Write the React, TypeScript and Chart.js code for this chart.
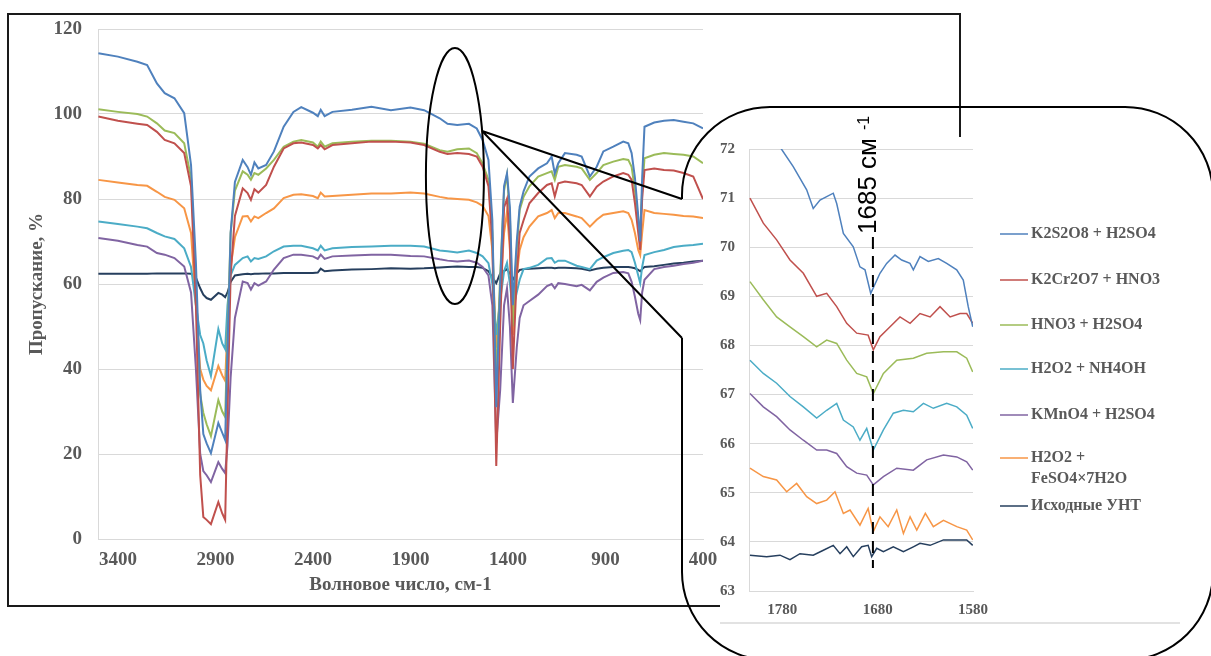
import React, { useEffect, useRef } from 'react';
import { Chart, registerables } from 'chart.js';

Chart.register(...registerables);

// ---------- main spectrum ----------
const SERIES_NAMES = ['K2S2O8 + H2SO4', 'K2Cr2O7 + HNO3', 'HNO3 + H2SO4', 'H2O2 + NH4OH', 'KMnO4 + H2SO4', 'H2O2 + FeSO4×7H2O', 'Исходные УНТ'];
const LEGEND_LINES = [['K2S2O8 + H2SO4'], ['K2Cr2O7 + HNO3'], ['HNO3 + H2SO4'], ['H2O2 + NH4OH'], ['KMnO4 + H2SO4'], ['H2O2 +', 'FeSO4×7H2O'], ['Исходные УНТ']];
const COLORS = ['#4F81BD', '#C0504D', '#9BBB59', '#4BACC6', '#8064A2', '#F79646', '#263F5E'];

const WAVENUMBER = [3500, 3400, 3300, 3250, 3200, 3160, 3110, 3060, 3025, 3000,
  2978, 2962, 2945, 2923, 2885, 2865, 2850, 2838, 2822, 2800,
  2760, 2735, 2718, 2700, 2680, 2640, 2600, 2550, 2500, 2460,
  2400, 2375, 2360, 2340, 2300, 2200, 2100, 2000, 1900, 1830,
  1750, 1710, 1660, 1600, 1560, 1530, 1500, 1480, 1460, 1440,
  1420, 1405, 1390, 1375, 1355, 1340, 1320, 1290, 1245, 1200,
  1176, 1160, 1142, 1108, 1048, 1022, 980, 945, 911, 860,
  809, 783, 766, 749, 732, 722, 712, 700, 650, 600,
  550, 500, 450, 400];

const T_K2S2O8 = [114.3, 113.5, 112.3, 111.5, 107.2, 104.9, 103.7, 100.2, 88, 65,
  35, 24.7, 22.5, 20.2, 27.3, 25, 23.3, 45, 72, 84,
  89.2, 87.5, 85.7, 88.6, 87.2, 88, 91.2, 97, 100.5, 101.6,
  100.3, 99.5, 101, 99.5, 100.5, 101, 101.7, 100.9, 101.5, 100.9,
  99, 97.7, 97.4, 97.7, 96.6, 93.9, 89.2, 75, 31, 60,
  83, 86, 78, 55, 70, 78.2, 81.8, 85.3, 87.2, 88.4,
  90, 86, 88.4, 90.8, 90.4, 90, 85.3, 87.6, 91.2, 92.3,
  93.5, 93.1, 90.8, 85, 76, 70, 85, 97, 98, 98.4,
  98.6, 98.2, 97.8, 96.6];
const T_K2CR2O7 = [99.4, 98.4, 97.7, 97.4, 95.8, 93.9, 93.1, 90.8, 83, 55,
  15, 5.2, 4.5, 3.5, 8.7, 6, 4.5, 30, 62, 76,
  82.5, 81.4, 79.8, 82.3, 81.5, 83.3, 87.6, 91.9, 93.1, 93.3,
  92.7, 91.9, 92.7, 91.7, 92.7, 93.1, 93.5, 93.5, 93.3, 92.7,
  91.1, 90.6, 90.8, 90.6, 90, 87.6, 83, 70, 17.2, 50,
  78, 80, 70, 40, 62, 72, 75, 79, 81.4, 83.3,
  83.7, 80.6, 83.7, 84.1, 83.7, 83.3, 80.6, 82.9, 84.1, 85.3,
  86.1, 85.7, 84.5, 79, 72, 68, 80, 86.8, 87.2, 86.8,
  86.7, 86.1, 85.3, 80];
const T_HNO3 = [101.1, 100.5, 100, 99.4, 97.8, 96.1, 95.5, 93.1, 85, 60,
  34, 29.7, 27, 24.2, 32.7, 30, 28.7, 48, 72, 82,
  86.5, 85.7, 84.5, 86.1, 85.7, 87.2, 89.2, 92.3, 93.5, 93.9,
  93.3, 92.3, 93.5, 92.3, 93.1, 93.5, 93.7, 93.7, 93.5, 93,
  91.5, 91.1, 91.7, 91.9, 90.8, 88.4, 84.5, 72, 37, 62,
  82, 85.7, 76, 50, 68, 77.4, 80.5, 83, 85.3, 86.1,
  86.5, 84.5, 87.6, 88, 87.6, 87.2, 84.5, 86.1, 88, 88.8,
  89.4, 89.2, 87.6, 82, 75, 72, 82, 89.6, 90.4, 90.8,
  90.6, 90.4, 90, 88.4];
const T_H2O2_NH4OH = [74.7, 74.1, 73.5, 73.1, 72, 71.2, 70.6, 68.4, 64, 55,
  48, 46, 42, 38.4, 49.4, 46, 44.7, 55, 62, 64.5,
  66.1, 66.5, 65.3, 66.1, 65.9, 66.5, 67.7, 68.8, 69, 69,
  68.4, 67.9, 69, 67.9, 68.4, 68.7, 68.8, 69, 69, 68.8,
  67.9, 67.7, 67.4, 67.9, 67.3, 66.5, 64.9, 60, 48, 56,
  63, 65, 60, 54, 58, 61, 63.5, 63.8, 64.5, 66,
  66.1, 65, 65.5, 65.5, 64.3, 64, 63.5, 65.5, 66.3, 67.3,
  67.8, 68, 67.5, 65, 62, 60.2, 64, 66.8, 67.5, 68,
  68.7, 69, 69.2, 69.5];
const T_KMNO4 = [70.8, 70.2, 69.2, 68.8, 67.3, 66.9, 66.1, 64.1, 58, 40,
  20, 16, 15, 13.4, 18.1, 16.5, 15.5, 22, 38, 52,
  60.6, 60.2, 58.7, 60.2, 59.6, 60.6, 63.4, 66.1, 66.9, 66.9,
  66.5, 65.9, 66.9, 65.9, 66.5, 66.7, 66.9, 66.9, 66.6, 66.5,
  65.8, 65.5, 65.3, 65.5, 65, 64, 62, 55, 22.6, 35,
  55, 59, 50, 32, 45, 52, 55, 56, 57.5, 59.5,
  60, 59, 60.2, 60, 59.5, 59.8, 58.5, 60.5, 61.5, 62.6,
  62.8, 62.5, 60.5, 57, 53, 51.5, 58, 61, 63.5, 64,
  64.3, 64.7, 65, 65.5];
const T_FESO4 = [84.5, 83.9, 83.3, 83.1, 81.7, 80.5, 79.8, 77.8, 72, 55,
  40, 37.5, 36, 35, 40.7, 38.5, 37.2, 50, 64, 71,
  75.9, 76, 74.7, 75.9, 75.5, 76.7, 77.8, 80.2, 81, 81.1,
  80.7, 80.2, 81.5, 80.6, 80.7, 81, 81.3, 81.3, 81.5, 81.3,
  80.5, 80.2, 80, 79.8, 79.2, 78.4, 76, 68, 45, 58,
  72, 77, 68, 48, 62, 68, 71, 73.5, 75.9, 76.7,
  77.4, 75.5, 76.7, 76.7, 75.9, 75.5, 73.5, 75.1, 76.3, 76.7,
  77.1, 76.7, 75.1, 72, 68, 66.8, 72, 77.4, 76.7, 76.5,
  76.3, 76, 75.9, 75.5];
const T_PRISTINE = [62.4, 62.4, 62.4, 62.4, 62.5, 62.5, 62.5, 62.5, 62.4, 61.5,
  59, 57.5, 56.7, 56.3, 57.9, 57.5, 56.9, 58, 60.5, 62,
  62.3, 62.4, 62.3, 62.4, 62.4, 62.5, 62.5, 62.6, 62.6, 62.6,
  62.6, 62.7, 63.6, 63, 63.2, 63.4, 63.5, 63.7, 63.6, 63.7,
  63.9, 64, 64.1, 64, 64, 63.8, 63, 61.5, 60.2, 62.5,
  63, 63.5, 62.5, 61, 62.5, 63.3, 63.5, 63.6, 63.7, 63.8,
  63.8, 63.7, 63.8, 63.8, 63.7, 63.6, 63.2, 63.6, 63.8, 64,
  64, 64, 63.9, 63.7, 63.3, 63, 63.5, 64, 64.2, 64.5,
  64.8, 65, 65.3, 65.5];

const MAIN_SERIES = [T_K2S2O8, T_K2CR2O7, T_HNO3, T_H2O2_NH4OH, T_KMNO4, T_FESO4, T_PRISTINE];
const X_TICKS = [3400, 2900, 2400, 1900, 1400, 900, 400];
const X_TITLE = 'Волновое число, см-1';
const Y_TITLE = 'Пропускание, %';

// ---------- inset (1580–1815 cm-1) ----------
const INSET_K2S2O8_X = [1814, 1781, 1768.6, 1754.5, 1747.6, 1740.5, 1733.5, 1726.6, 1723, 1716, 1705.6, 1698.6, 1693.3, 1687.3, 1677.6, 1670.6, 1661.8, 1654.8, 1646.1, 1642.6, 1635.6, 1626.9, 1616.4, 1607.6, 1597.1, 1590.2, 1585, 1580.3];
const INSET_K2S2O8_Y = [72.9, 72.0, 71.64, 71.17, 70.79, 70.96, 71.03, 71.1, 70.89, 70.28, 70.01, 69.6, 69.54, 69.06, 69.47, 69.67, 69.84, 69.74, 69.67, 69.54, 69.81, 69.71, 69.77, 69.67, 69.54, 69.33, 68.79, 68.38];
const INSET_K2CR2O7_X = [1814, 1800, 1786, 1772, 1758, 1744, 1733.5, 1723, 1712.5, 1702, 1690, 1684.6, 1677.6, 1667, 1656.6, 1646, 1635.6, 1625, 1614.6, 1604, 1593.6, 1586.6, 1580.3];
const INSET_K2CR2O7_Y = [71.0, 70.49, 70.15, 69.74, 69.47, 69.0, 69.06, 68.79, 68.45, 68.25, 68.21, 67.91, 68.18, 68.38, 68.58, 68.45, 68.65, 68.58, 68.79, 68.58, 68.65, 68.65, 68.45];
const INSET_HNO3_X = [1814, 1800, 1786, 1772, 1758, 1744, 1733.5, 1723, 1712.5, 1702, 1691.5, 1684.6, 1674, 1660, 1642.6, 1628.6, 1611, 1597, 1586.6, 1580.3];
const INSET_HNO3_Y = [69.3, 68.93, 68.58, 68.38, 68.18, 67.97, 68.11, 68.04, 67.7, 67.43, 67.36, 67.02, 67.43, 67.7, 67.74, 67.84, 67.87, 67.87, 67.74, 67.46];
const INSET_NH4OH_X = [1814, 1800, 1786, 1772, 1758, 1744, 1733.5, 1723, 1716, 1705.6, 1698.6, 1691.5, 1684.6, 1674, 1663.6, 1653, 1642.6, 1632, 1621.6, 1607.6, 1597, 1586.6, 1580.3];
const INSET_NH4OH_Y = [67.7, 67.43, 67.23, 66.96, 66.75, 66.52, 66.68, 66.82, 66.48, 66.34, 66.07, 66.31, 65.87, 66.28, 66.62, 66.68, 66.65, 66.82, 66.72, 66.82, 66.75, 66.58, 66.31];
const INSET_KMNO4_X = [1814, 1800, 1786, 1772, 1758, 1744, 1733.5, 1723, 1712.5, 1702, 1691.5, 1684.6, 1674, 1660, 1642.6, 1628.6, 1611, 1597, 1586.6, 1580.3];
const INSET_KMNO4_Y = [67.02, 66.75, 66.55, 66.28, 66.07, 65.87, 65.87, 65.8, 65.53, 65.4, 65.36, 65.16, 65.33, 65.5, 65.46, 65.67, 65.77, 65.73, 65.63, 65.46];
const INSET_FESO4_X = [1814, 1800, 1786, 1775.5, 1765, 1754.5, 1744, 1733.5, 1724.8, 1716, 1709, 1698.6, 1690, 1684.6, 1677.6, 1669, 1660, 1653, 1646, 1639, 1630, 1621.6, 1611, 1597, 1586.6, 1580.3];
const INSET_FESO4_Y = [65.5, 65.33, 65.26, 65.02, 65.19, 64.92, 64.78, 64.85, 65.02, 64.58, 64.65, 64.34, 64.68, 64.21, 64.51, 64.31, 64.65, 64.17, 64.51, 64.24, 64.58, 64.31, 64.44, 64.31, 64.24, 64.04];
const INSET_PRISTINE_X = [1814, 1796.5, 1782.5, 1772, 1761.5, 1747.6, 1737, 1726.6, 1719.5, 1712.5, 1705.6, 1696.8, 1690, 1686.3, 1681, 1674, 1663.6, 1653, 1642.6, 1635.6, 1625, 1611, 1597, 1586.6, 1580.3];
const INSET_PRISTINE_Y = [63.73, 63.7, 63.73, 63.64, 63.76, 63.73, 63.83, 63.93, 63.76, 63.9, 63.7, 63.9, 63.93, 63.7, 63.87, 63.8, 63.9, 63.8, 63.9, 63.97, 63.93, 64.04, 64.04, 64.04, 63.93];

const INSET_XS = [INSET_K2S2O8_X, INSET_K2CR2O7_X, INSET_HNO3_X, INSET_NH4OH_X, INSET_KMNO4_X, INSET_FESO4_X, INSET_PRISTINE_X];
const INSET_YS = [INSET_K2S2O8_Y, INSET_K2CR2O7_Y, INSET_HNO3_Y, INSET_NH4OH_Y, INSET_KMNO4_Y, INSET_FESO4_Y, INSET_PRISTINE_Y];
const INSET_X_TICKS = [1780, 1680, 1580];
const MARK_WAVENUMBER = 1685;
const MARK_LABEL = '1685 см';
const MARK_SUP = '-1';
// zoomed region circled on the main spectrum
const ZOOM_CENTER_WN = 1672;
const ZOOM_CENTER_T = 85.4;

const SERIF = "'Liberation Serif', 'Times New Roman', serif";
const TEXT_GRAY = '#595959';
const GRID_GRAY = '#d9d9d9';

export default function App() {
  const mainRef = useRef<HTMLCanvasElement>(null);
  const insetRef = useRef<HTMLCanvasElement>(null);

  useEffect(() => {
    const mainFont = { family: SERIF, size: 19, weight: 'bold' as const };

    const framePlugin = {
      id: 'frame',
      beforeDraw(chart: any) {
        const ctx = chart.ctx;
        ctx.save();
        ctx.strokeStyle = '#1a1a1a';
        ctx.lineWidth = 2;
        ctx.strokeRect(8, 14, 952, 592);
        ctx.restore();
      },
    };

    const calloutPlugin = {
      id: 'callout',
      afterDraw(chart: any) {
        const ctx = chart.ctx;
        const xs = chart.scales.x;
        const ys = chart.scales.y;
        const cx = xs.getPixelForValue(ZOOM_CENTER_WN);
        const cy = ys.getPixelForValue(ZOOM_CENTER_T);
        const rx = 29, ry = 128;
        ctx.save();
        ctx.strokeStyle = '#000';
        ctx.lineWidth = 2;
        ctx.beginPath();
        ctx.ellipse(cx, cy, rx, ry, 0, 0, Math.PI * 2);
        ctx.stroke();
        const ay = cy - 45;
        const ax = cx + rx * Math.sqrt(1 - (45 / ry) * (45 / ry));
        const L = 682, T = 107, R = 1213, B = 660, r = 88;
        ctx.beginPath();
        ctx.moveTo(ax, ay);
        ctx.lineTo(L, 199);
        ctx.moveTo(ax, ay);
        ctx.lineTo(L, 338);
        ctx.stroke();
        ctx.beginPath();
        ctx.moveTo(L, 199);
        ctx.lineTo(L, T + r);
        ctx.arcTo(L, T, L + r, T, r);
        ctx.lineTo(R - r, T);
        ctx.arcTo(R, T, R, T + r, r);
        ctx.lineTo(R, B - r);
        ctx.arcTo(R, B, R - r, B, r);
        ctx.lineTo(L + r, B);
        ctx.arcTo(L, B, L, B - r, r);
        ctx.lineTo(L, 338);
        ctx.stroke();
        ctx.restore();
      },
    };

    const main = new Chart(mainRef.current as HTMLCanvasElement, {
      type: 'line',
      data: {
        datasets: MAIN_SERIES.map((s, i) => ({
          label: SERIES_NAMES[i],
          data: WAVENUMBER.map((x, j) => ({ x, y: s[j] })),
          borderColor: COLORS[i],
          backgroundColor: COLORS[i],
          borderWidth: 2,
          pointRadius: 0,
          tension: 0,
          fill: false,
        })),
      },
      options: {
        animation: false,
        responsive: false,
        maintainAspectRatio: false,
        layout: { padding: { left: 0, top: 29, right: 508, bottom: 36 } },
        plugins: { legend: { display: false }, tooltip: { enabled: false } },
        scales: {
          x: {
            type: 'linear',
            reverse: true,
            min: 400,
            max: 3502,
            afterBuildTicks: (s: any) => { s.ticks = X_TICKS.map((v) => ({ value: v })); },
            afterFit: (s: any) => { s.height = 81; },
            grid: { display: false, drawTicks: false },
            border: { display: true, color: GRID_GRAY, width: 1 },
            ticks: { font: mainFont, color: TEXT_GRAY, padding: 10, maxRotation: 0, autoSkip: false, callback: (v: any) => String(v) },
            title: { display: true, text: X_TITLE, font: mainFont, color: TEXT_GRAY, padding: { top: 0, bottom: 24 } },
          },
          y: {
            min: 0,
            max: 120,
            afterFit: (s: any) => { s.width = 98; },
            grid: { color: GRID_GRAY, drawTicks: false },
            border: { display: true, color: GRID_GRAY, width: 1 },
            ticks: { stepSize: 20, font: mainFont, color: TEXT_GRAY, padding: 16 },
            title: { display: true, text: Y_TITLE, font: mainFont, color: TEXT_GRAY, padding: { top: 26, bottom: 0 } },
          },
        },
      } as any,
      plugins: [framePlugin, calloutPlugin],
    });

    const insetFont = { family: SERIF, size: 15, weight: 'bold' as const };

    const insetBgPlugin = {
      id: 'insetBg',
      beforeDraw(chart: any) {
        const ctx = chart.ctx;
        ctx.save();
        ctx.fillStyle = '#ffffff';
        ctx.fillRect(0, 27, chart.width, chart.height - 27);
        ctx.strokeStyle = GRID_GRAY;
        ctx.lineWidth = 1.5;
        ctx.beginPath();
        ctx.moveTo(0, chart.height - 1);
        ctx.lineTo(chart.width - 10, chart.height - 1);
        ctx.stroke();
        ctx.restore();
      },
    };

    const insetDecorPlugin = {
      id: 'insetDecor',
      afterDraw(chart: any) {
        const ctx = chart.ctx;
        const xs = chart.scales.x;
        // legend
        const rows = [124, 170, 215, 259, 305, 348, 396];
        ctx.save();
        ctx.font = `bold 16px ${SERIF}`;
        ctx.textBaseline = 'middle';
        ctx.textAlign = 'left';
        LEGEND_LINES.forEach((lines, i) => {
          const y = rows[i];
          ctx.strokeStyle = COLORS[i];
          ctx.lineWidth = 1.5;
          ctx.beginPath();
          ctx.moveTo(280, y);
          ctx.lineTo(308, y);
          ctx.stroke();
          ctx.fillStyle = TEXT_GRAY;
          lines.forEach((t, k) => ctx.fillText(t, 311, y + k * 21));
        });
        // dashed marker
        const px = xs.getPixelForValue(MARK_WAVENUMBER);
        ctx.strokeStyle = '#000';
        ctx.lineWidth = 2;
        ctx.setLineDash([12, 7]);
        ctx.beginPath();
        ctx.moveTo(px, 127);
        ctx.lineTo(px, 458);
        ctx.stroke();
        ctx.setLineDash([]);
        ctx.translate(px - 4, 124);
        ctx.rotate(-Math.PI / 2);
        ctx.fillStyle = '#000';
        ctx.font = `26px 'Liberation Sans', Arial, sans-serif`;
        ctx.textBaseline = 'middle';
        ctx.fillText(MARK_LABEL, 0, 0);
        const w = ctx.measureText(MARK_LABEL).width;
        ctx.font = `16px 'Liberation Sans', Arial, sans-serif`;
        ctx.fillText(MARK_SUP, w + 8, -4);
        ctx.restore();
      },
    };

    const inset = new Chart(insetRef.current as HTMLCanvasElement, {
      type: 'line',
      data: {
        datasets: INSET_YS.map((ys, i) => ({
          label: SERIES_NAMES[i],
          data: INSET_XS[i].map((x, j) => ({ x, y: ys[j] })),
          borderColor: COLORS[i],
          borderWidth: 1.5,
          pointRadius: 0,
          tension: 0,
          fill: false,
        })),
      },
      options: {
        animation: false,
        responsive: false,
        maintainAspectRatio: false,
        layout: { padding: { left: 0, top: 39, right: 217, bottom: 0 } },
        plugins: { legend: { display: false }, tooltip: { enabled: false } },
        scales: {
          x: {
            type: 'linear',
            reverse: true,
            min: 1580,
            max: 1815,
            afterBuildTicks: (s: any) => { s.ticks = INSET_X_TICKS.map((v) => ({ value: v })); },
            afterFit: (s: any) => { s.height = 33; },
            grid: { display: false, drawTicks: false },
            border: { display: true, color: GRID_GRAY, width: 1 },
            ticks: { font: insetFont, color: TEXT_GRAY, padding: 10, maxRotation: 0, autoSkip: false, callback: (v: any) => String(v) },
          },
          y: {
            min: 63,
            max: 72,
            afterFit: (s: any) => { s.width = 29; },
            grid: { color: GRID_GRAY, drawTicks: false },
            border: { display: true, color: GRID_GRAY, width: 1 },
            ticks: { stepSize: 1, font: insetFont, color: TEXT_GRAY, padding: 14 },
          },
        },
      } as any,
      plugins: [insetBgPlugin, insetDecorPlugin],
    });

    return () => {
      main.destroy();
      inset.destroy();
    };
  }, []);

  return (
    <div style={{ position: 'absolute', left: 0, top: 0, width: 1211, height: 656, background: '#ffffff', overflow: 'hidden' }}>
      <canvas ref={mainRef} width={1211} height={656} style={{ position: 'absolute', left: 0, top: 0 }} />
      <canvas ref={insetRef} width={470} height={514} style={{ position: 'absolute', left: 720, top: 110 }} />
    </div>
  );
}
